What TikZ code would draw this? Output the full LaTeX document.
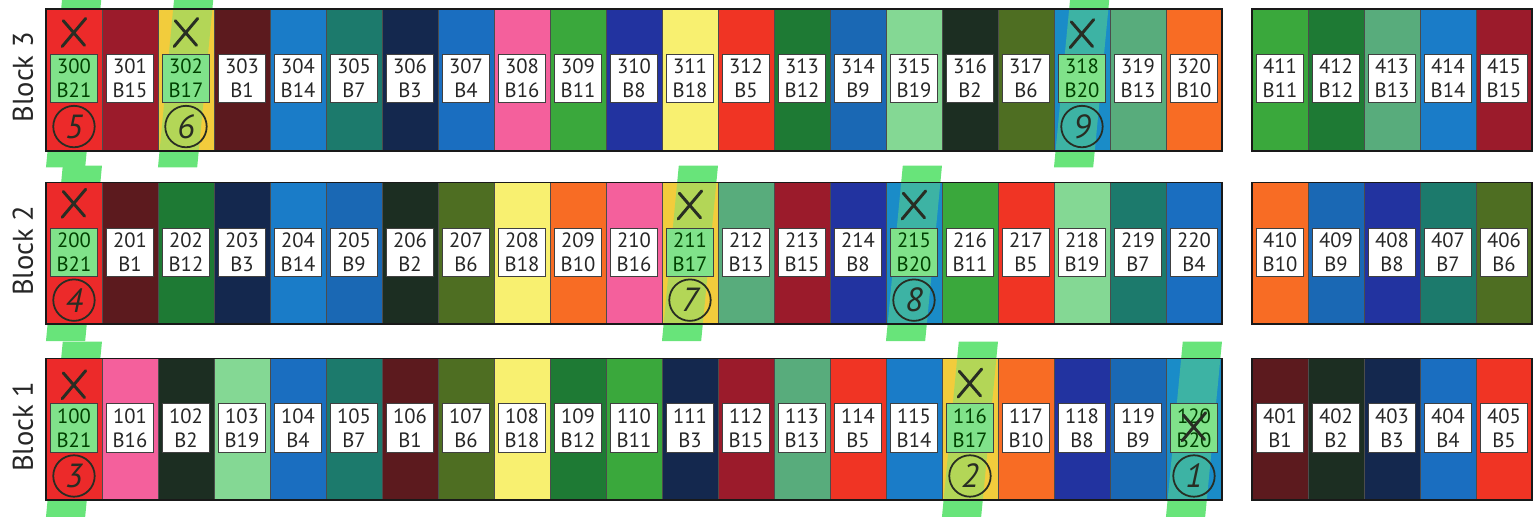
\documentclass[tikz,border=0pt]{standalone}
\usepackage{fontspec}
\setmainfont{PT Sans}

% batch colours B1..B21
\definecolor{b1}{RGB}{92,26,30}
\definecolor{b2}{RGB}{28,46,34}
\definecolor{b3}{RGB}{20,40,78}
\definecolor{b4}{RGB}{26,110,192}
\definecolor{b5}{RGB}{240,52,36}
\definecolor{b6}{RGB}{78,110,34}
\definecolor{b7}{RGB}{28,122,108}
\definecolor{b8}{RGB}{34,51,160}
\definecolor{b9}{RGB}{26,104,180}
\definecolor{b10}{RGB}{248,108,36}
\definecolor{b11}{RGB}{58,168,60}
\definecolor{b12}{RGB}{30,122,52}
\definecolor{b13}{RGB}{88,172,124}
\definecolor{b14}{RGB}{26,124,200}
\definecolor{b15}{RGB}{155,27,43}
\definecolor{b16}{RGB}{244,96,156}
\definecolor{b17}{RGB}{242,204,60}
\definecolor{b18}{RGB}{248,240,112}
\definecolor{b19}{RGB}{132,216,148}
\definecolor{b20}{RGB}{26,140,200}
\definecolor{b21}{RGB}{236,42,42}
\definecolor{hl}{RGB}{104,228,122}
\definecolor{hlbox}{RGB}{128,226,138}
\definecolor{ink}{RGB}{40,45,35}

% plot/batch lists
\newcommand{\rowthree}{300/21,301/15,302/17,303/1,304/14,305/7,306/3,307/4,308/16,309/11,310/8,311/18,312/5,313/12,314/9,315/19,316/2,317/6,318/20,319/13,320/10}
\newcommand{\rowtwo}{200/21,201/1,202/12,203/3,204/14,205/9,206/2,207/6,208/18,209/10,210/16,211/17,212/13,213/15,214/8,215/20,216/11,217/5,218/19,219/7,220/4}
\newcommand{\rowone}{100/21,101/16,102/2,103/19,104/4,105/7,106/1,107/6,108/18,109/12,110/11,111/3,112/15,113/13,114/5,115/14,116/17,117/10,118/8,119/9,120/20}
\newcommand{\sidethree}{411/11,412/12,413/13,414/14,415/15}
\newcommand{\sidetwo}{410/10,409/9,408/8,407/7,406/6}
\newcommand{\sideone}{401/1,402/2,403/3,404/4,405/5}
% column / row bottom / order / height of the cross
\newcommand{\plotmarks}{0/6.56/5/2.1,2/6.56/6/2.1,18/6.56/9/2.08,0/3.46/4/2.15,11/3.46/7/2.12,15/3.46/8/2.12,0/0.32/3/2.05,16/0.32/2/2.08,20/0.32/1/1.3}

% one strip of plots: left x, bottom y, list
\newcommand{\plotrow}[3]{%
  \foreach \n/\bt [count=\i from 0] in #3 {
    \path[cellbox,fill=b\bt] (#1+\i,#2) rectangle ++(1,2.53);
    \begin{scope}
      \clip (#1+\i,#2) rectangle ++(1,2.53);
      \fill[hl,opacity=0,tint\bt/.try] (#1+\i,#2-0.3) -- ++(0.7,0) -- ++(0.3,3.13) -- ++(-0.7,0) -- cycle;
    \end{scope}
    \node[box,box\bt/.try] (c\n) at (#1+\i+0.5,#2+1.29) {\n\\B\bt};
  }}

\begin{document}
\begin{tikzpicture}[
  cellbox/.style={draw=black!70,line width=0.35pt},
  frame/.style={draw=black!90,line width=0.9pt},
  box/.style={draw=black!75,line width=0.4pt,fill=white,minimum width=0.84cm,
    minimum height=0.86cm,inner sep=0pt,align=center,
    font=\fontsize{10.5}{12.2}\selectfont,text=black!85},
  box17/.style={fill=hlbox,text=green!25!black},
  box20/.style={box17},
  box21/.style={box17},
  tint17/.style={opacity=.45},
  tint20/.style={opacity=.45},
  blk/.style={rotate=90,font=\fontsize{14.5}{16}\selectfont,text=black!85},
  hand/.style={circle,draw=ink,line width=0.9pt,minimum size=0.74cm,inner sep=0pt,
    text=ink,font=\fontsize{17}{17}\selectfont\itshape},
  cross/.style={ink,line width=1.5pt,line cap=round}]
\useasboundingbox (0,0) rectangle (27.411,9.25);

% ---------------- highlighter strokes ----------------
\foreach \c/\y/\k/\h in \plotmarks
  \fill[hl] (0.821+\c,\y-0.3) -- (1.521+\c,\y-0.3) -- (1.821+\c,\y+2.83) -- (1.121+\c,\y+2.83) -- cycle;

% ---------------- plots ----------------
\plotrow{0.821}{6.56}{\rowthree}
\plotrow{22.357}{6.56}{\sidethree}
\plotrow{0.821}{3.46}{\rowtwo}
\plotrow{22.357}{3.46}{\sidetwo}
\plotrow{0.821}{0.32}{\rowone}
\plotrow{22.357}{0.32}{\sideone}
\foreach \y in {6.56,3.46,0.32} {
  \draw[frame] (0.821,\y) rectangle ++(21,2.53);
  \draw[frame] (22.357,\y) rectangle ++(5,2.53);
}

% ---------------- block labels ----------------
\node[blk] (blk3) at (0.41,7.87) {Block 3};
\node[blk] (blk2) at (0.41,4.77) {Block 2};
\node[blk] (blk1) at (0.41,1.63) {Block 1};

% ---------------- hand marks ----------------
\foreach \c/\y/\k/\h in \plotmarks {
  \draw[cross] (1.11+\c,\y+\h-0.24) -- (1.53+\c,\y+\h+0.26)
               (1.13+\c,\y+\h+0.22) -- (1.51+\c,\y+\h-0.22);
  \node[hand] (m\k) at (1.321+\c,\y+0.43) {\k};
}
\end{tikzpicture}
\end{document}
